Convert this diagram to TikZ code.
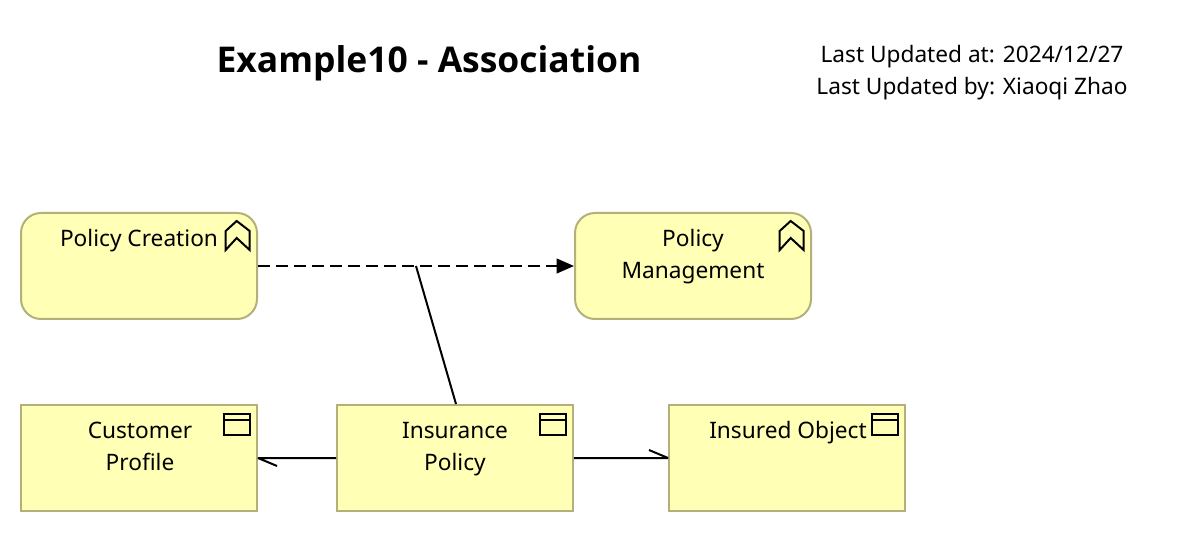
\documentclass[tikz,border=0pt]{standalone}
\usepackage{fontspec}
\setmainfont{Noto Sans}
\newfontfamily\titlefont{Open Sans}
\usetikzlibrary{calc,arrows.meta}
\definecolor{boxfill}{HTML}{FFFFB5}
\definecolor{boxline}{HTML}{B3B07A}
\tikzset{
  x=0.75pt,y=-0.75pt,
  element/.style={draw=boxline,fill=boxfill,line width=1.5pt,minimum width=177pt,minimum height=79.5pt,inner sep=0pt},
  procbox/.style={element,rounded corners=15pt},
  objbox/.style={element},
  label/.style={anchor=north,align=center,inner sep=0pt,font=\fontsize{17}{24}\selectfont},
  meta/.style={align=center,inner sep=0pt,font=\fontsize{17}{24}\selectfont},
  titletext/.style={inner sep=0pt,font=\titlefont\fontsize{26.6}{32}\selectfont\bfseries},
  conn/.style={line width=1.5pt,black,line join=bevel},
  iconline/.style={line width=1.5pt,black,line join=miter},
  processicon/.pic={\draw[iconline] (-20,9) -- (-7,19) -- (-7,38) -- (-20,26) -- (-31,38) -- (-31,19) -- cycle;},
  objecticon/.pic={\draw[iconline] (-33,10) rectangle (-7,31); \draw[iconline] (-33,16.5) -- (-7,16.5);}
}
\begin{document}
\begin{tikzpicture}
\useasboundingbox (0,0) rectangle (1178,534);
\node[titletext] (title) at (429,63) {Example10 - Association};
\node[meta] (info) at (972,73) {Last Updated at: 2024/12/27\\Last Updated by: Xiaoqi Zhao};
\node[procbox] (pc) at (139,266) {};
\node[procbox] (pm) at (693,266) {};
\node[objbox] (cp) at (139,458) {};
\node[objbox] (ip) at (455,458) {};
\node[objbox] (io) at (787,458) {};
\node[label] (pct) at (139,229) {Policy Creation};
\node[label] (pmt) at (693,229) {Policy\\Management};
\node[label] (cpt) at (140,422) {Customer\\Profile};
\node[label] (ipt) at (455,422) {Insurance\\Policy};
\node[label] (iot) at (788,421) {Insured Object};
\pic at ([xshift=-1pt]pc.north east) {processicon};
\pic at ([xshift=-1pt]pm.north east) {processicon};
\pic at ([xshift=-0.75pt]cp.north east) {objecticon};
\pic at ([xshift=-0.75pt]ip.north east) {objecticon};
\pic at ([xshift=-0.75pt]io.north east) {objecticon};
\coordinate (junction) at (416,266);
\draw[conn,dash pattern=on 9pt off 4.5pt,-{Triangle[length=13pt,width=11pt,sep=0pt]}] (pc.east) -- (pm.west);
\draw[conn] (junction) -- ($(ip.north)+(1,0)$);
\draw[conn] (ip.west) -- (cp.east) -- ++(19,8);
\draw[conn] (ip.east) -- (io.west) -- ++(-19,-8);
\end{tikzpicture}
\end{document}
